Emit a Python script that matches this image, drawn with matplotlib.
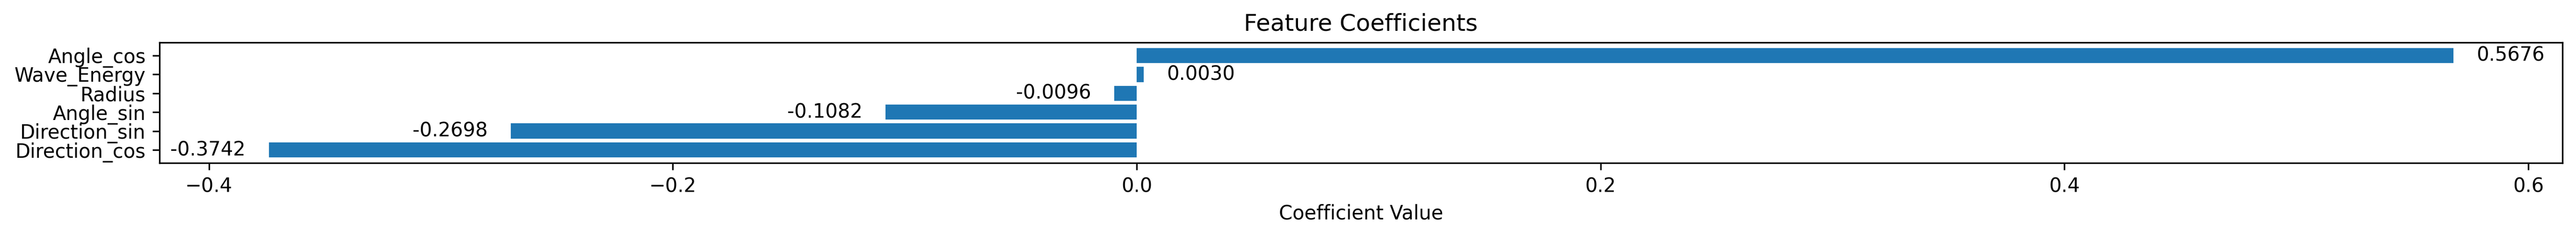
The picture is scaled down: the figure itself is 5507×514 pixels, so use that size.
import matplotlib
matplotlib.use("Agg")
from matplotlib import pyplot as plt
import numpy as np

# coefficients, sorted ascending (bottom to top)
features = ['Direction_cos', 'Direction_sin', 'Angle_sin', 'Radius', 'Wave_Energy', 'Angle_cos']
coefs = [-0.3742, -0.2698, -0.1082, -0.0096, 0.0030, 0.5676]

fig = plt.figure(figsize=(5507/300, 514/300), dpi=300)
ax = fig.add_axes([341/5507, 1-349/514, (5478-341)/5507, (349-91)/514])

y = np.arange(len(features))
ax.barh(y, coefs, color='#1f77b4')
ax.set_yticks(y)
ax.set_yticklabels(features)

# value labels next to each bar
for yi, v in zip(y, coefs):
    if v >= 0:
        ax.text(v + 0.01, yi, f'{v:.4f}', va='center', ha='left', fontsize=10)
    else:
        ax.text(v - 0.01, yi, f'{v:.4f}', va='center', ha='right', fontsize=10)

ax.set_xlabel('Coefficient Value')
ax.set_title('Feature Coefficients')

fig.savefig('out.png', dpi=300)
